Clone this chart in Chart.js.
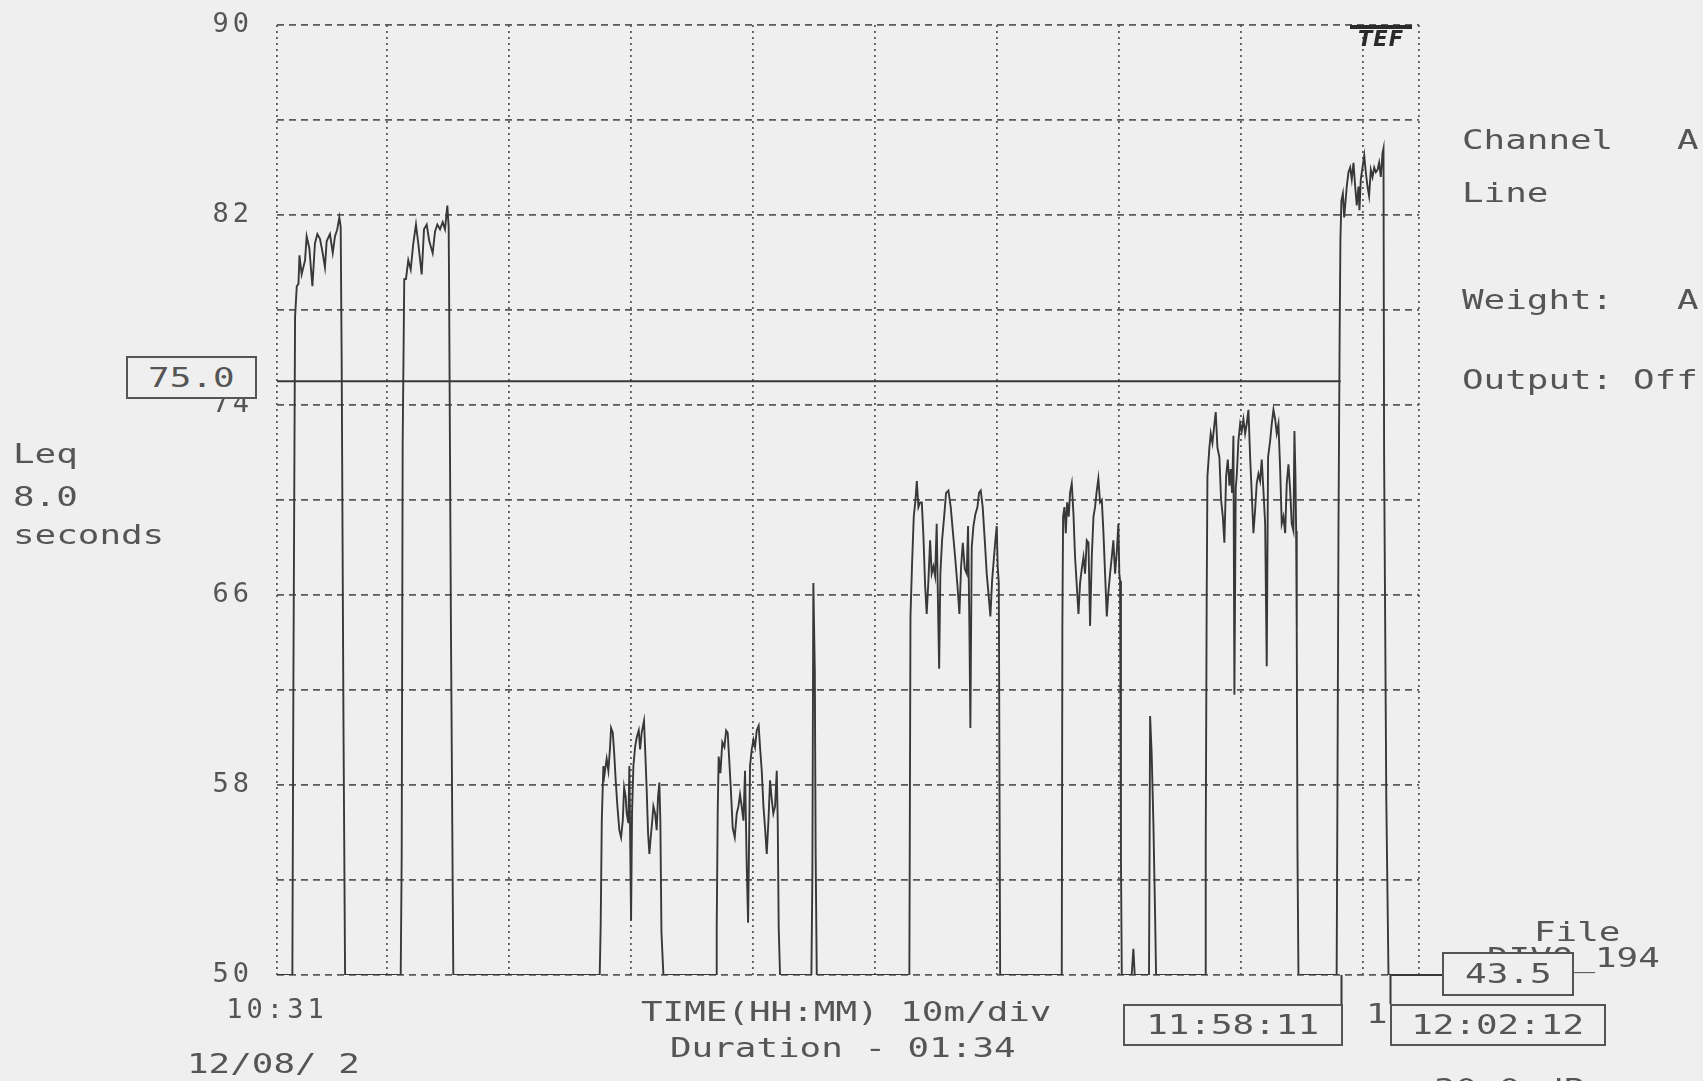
<!DOCTYPE html>
<html>
<head>
<meta charset="utf-8">
<title>Leq 8.0 seconds</title>
<script src="https://cdn.jsdelivr.net/npm/chart.js@4.4.1/dist/chart.umd.min.js"></script>
<style>
  html, body { margin: 0; padding: 0; background: #efefef; }
  body { width: 1703px; height: 1081px; position: relative; overflow: hidden; }
  #chart { position: absolute; left: 0; top: 0; z-index: 1; }
  .t {
    position: absolute; z-index: 2;
    font-family: 'DejaVu Sans Mono', monospace; font-size: 26px; line-height: 26px;
    color: #555; white-space: pre;
    transform: scaleX(1.38); transform-origin: 0 50%;
  }
  .box {
    position: absolute; z-index: 3; box-sizing: border-box;
    border: 2px solid #555; background: #efefef;
    display: flex; align-items: center; justify-content: center;
  }
  .box span {
    display: inline-block; white-space: pre;
    font-family: 'DejaVu Sans Mono', monospace; font-size: 26px; line-height: 26px;
    color: #555; transform: scaleX(1.38);
  }
  .logo {
    position: absolute; z-index: 2; left: 1350px; top: 25px; width: 62px;
    border-top: 4px solid #2a2a2a; padding-top: 1px;
    font-family: 'DejaVu Sans', sans-serif; font-weight: bold; font-style: italic;
    font-size: 21px; line-height: 19px; color: #2a2a2a; letter-spacing: 1px; text-align: center;
  }
</style>
</head>
<body>
<canvas id="chart" width="1703" height="1081"></canvas>

<div class="t" style="left:13px;top:441px">Leq</div>
<div class="t" style="left:13px;top:484px">8.0</div>
<div class="t" style="left:13px;top:522px">seconds</div>

<div class="t" style="left:187px;top:1051px">12/08/ 2</div>
<div class="t" style="left:641px;top:999px">TIME(HH:MM) 10m/div</div>
<div class="t" style="left:670px;top:1035px">Duration - 01:34</div>

<div class="t" style="left:1462px;top:127px">Channel</div>
<div class="t" style="left:1677px;top:127px">A</div>
<div class="t" style="left:1462px;top:180px">Line</div>
<div class="t" style="left:1462px;top:287px">Weight:</div>
<div class="t" style="left:1677px;top:287px">A</div>
<div class="t" style="left:1462px;top:367px">Output:</div>
<div class="t" style="left:1633px;top:367px">Off</div>

<div class="t" style="left:1534px;top:919px">File</div>
<div class="t" style="left:1487px;top:945px">DIVO_194</div>
<div class="t" style="left:1366px;top:1001px">1</div>
<div class="t" style="left:1434px;top:1076px">30.0 dB</div>

<div class="logo">TEF</div>

<div class="box" id="thresholdBox" style="left:126px;top:356px;width:131px;height:43px"><span></span></div>
<div class="box" id="cursorBox1" style="left:1123px;top:1004px;width:220px;height:42px"><span></span></div>
<div class="box" id="cursorBox2" style="left:1390px;top:1004px;width:216px;height:42px"><span></span></div>
<div class="box" id="levelBox" style="left:1442px;top:952px;width:132px;height:44px"><span></span></div>

<script>
// time axis is in minutes after 10:00, level in dB(A)
const startMinute = 31;          // 10:31
const endMinute = 124.6;         // duration 01:34
const gridMinutes = [31, 40, 50, 60, 70, 80, 90, 100, 110, 120, 124.6];
const levelTicks = [50, 58, 66, 74, 82, 90];

const thresholdLevel = 75.0;
const currentLevel = 43.5;
const cursorLabels = ['11:58:11', '12:02:12'];

const leqTime = [
    31,
    // burst 1
    32.26, 32.34, 32.48, 32.62, 32.76, 32.84, 33.02, 33.30, 33.43, 33.65, 33.90, 34.11, 34.31,
    34.52, 34.71, 34.93, 35.07, 35.34, 35.57, 35.75, 35.94, 36.11, 36.22, 36.30, 36.45, 36.58,
    // burst 2
    41.14, 41.22, 41.30, 41.43, 41.57, 41.76, 41.96, 42.17, 42.39, 42.58, 42.86, 43.05, 43.27,
    43.48, 43.76, 43.95, 44.14, 44.36, 44.58, 44.77, 44.96, 45.07, 45.10, 45.26, 45.45,
    // burst 3
    57.45, 57.53, 57.62, 57.75, 57.83, 58.02, 58.16, 58.30, 58.38, 58.52, 58.63, 58.76, 58.90,
    59.06, 59.20, 59.34, 59.45, 59.58, 59.66, 59.80, 59.88, 60.02, 60.10, 60.21, 60.35, 60.48,
    60.65, 60.76, 60.89, 61.08, 61.19, 61.30, 61.41, 61.52, 61.63, 61.74, 61.85, 61.99, 62.12,
    62.23, 62.34, 62.42, 62.51, 62.67,
    // burst 4
    66.99, 67.04, 67.12, 67.20, 67.34, 67.50, 67.67, 67.81, 67.94, 68.05, 68.19, 68.35, 68.52,
    68.68, 68.82, 68.95, 69.09, 69.23, 69.36, 69.50, 69.61, 69.77, 69.91, 70.05, 70.18, 70.32,
    70.48, 70.59, 70.73, 70.87, 71.00, 71.14, 71.28, 71.41, 71.55, 71.68, 71.82, 71.96, 72.04,
    72.12, 72.23,
    // spike
    74.80, 74.88, 74.96, 75.08, 75.15, 75.24,
    // burst 5
    82.83, 82.92, 83.05, 83.19, 83.33, 83.44, 83.57, 83.71, 83.85, 83.98, 84.12, 84.25, 84.39,
    84.53, 84.66, 84.80, 84.94, 85.07, 85.16, 85.27, 85.37, 85.51, 85.68, 85.84, 86.03, 86.22,
    86.39, 86.58, 86.77, 86.93, 87.07, 87.21, 87.37, 87.53, 87.64, 87.75, 87.83, 87.94, 88.08,
    88.24, 88.41, 88.54, 88.68, 88.84, 89.01, 89.17, 89.34, 89.47, 89.61, 89.75, 89.88, 89.99,
    90.07, 90.16, 90.27,
    // burst 6
    95.32, 95.37, 95.43, 95.54, 95.65, 95.76, 95.89, 96.00, 96.14, 96.28, 96.41, 96.55, 96.69,
    96.82, 96.96, 97.10, 97.23, 97.37, 97.51, 97.64, 97.78, 97.92, 98.05, 98.19, 98.32, 98.46,
    98.60, 98.73, 98.87, 99.01, 99.14, 99.28, 99.42, 99.55, 99.69, 99.83, 99.96, 100.04, 100.10,
    100.17, 100.24,
    // small bump and spike
    101.05, 101.19, 101.30,
    102.47, 102.52, 102.56, 102.69, 102.83, 102.97, 103.05,
    // burst 7
    107.07, 107.12, 107.20, 107.26, 107.42, 107.53, 107.67, 107.81, 107.94, 108.08, 108.24, 108.38,
    108.52, 108.65, 108.79, 108.93, 109.06, 109.17, 109.28, 109.39, 109.47, 109.58, 109.66, 109.80,
    109.94, 110.07, 110.21, 110.35, 110.48, 110.62, 110.76, 110.89, 111.03, 111.17, 111.30, 111.44,
    111.58, 111.71, 111.85, 111.99, 112.12, 112.23, 112.40, 112.53, 112.67, 112.81, 112.94, 113.08,
    113.22, 113.35, 113.49, 113.63, 113.76, 113.90, 114.04, 114.17, 114.31, 114.39, 114.47, 114.53,
    114.58, 114.64, 114.72,
    // burst 8
    117.85, 117.92, 118.00, 118.10, 118.16, 118.24, 118.36, 118.47, 118.55, 118.68, 118.82, 118.96,
    119.09, 119.23, 119.37, 119.50, 119.64, 119.72, 119.83, 119.97, 120.11, 120.24, 120.38, 120.51,
    120.65, 120.79, 120.93, 121.06, 121.20, 121.33, 121.47, 121.61, 121.69, 121.74, 121.92, 122.10,
    124.6
];

const leqLevel = [
    50,
    // burst 1
    50, 61.8, 77.7, 79.0, 79.1, 80.3, 79.5, 80.1, 81.1, 80.6, 79.0, 80.8, 81.2,
    81.0, 80.5, 79.8, 80.9, 81.2, 80.4, 81.1, 81.4, 81.9, 81.5, 75.9, 60.4, 50,
    // burst 2
    50, 55.0, 72.4, 79.3, 79.3, 80.1, 79.7, 80.8, 81.6, 80.8, 79.5, 81.4, 81.6,
    80.9, 80.4, 81.3, 81.6, 81.4, 81.7, 81.4, 82.4, 81.5, 79.4, 64.3, 50,
    // burst 3
    50, 52.1, 56.5, 58.8, 58.4, 59.1, 58.6, 59.6, 60.4, 60.2, 59.4, 58.2, 57.1,
    56.1, 55.8, 56.5, 57.9, 57.5, 56.8, 56.4, 58.8, 52.3, 56.8, 58.8, 59.6, 60.0,
    60.3, 59.5, 60.2, 60.7, 59.3, 57.8, 56.0, 55.1, 55.8, 56.4, 57.1, 56.8, 56.1,
    57.5, 58.1, 56.5, 51.8, 50,
    // burst 4
    50, 52.0, 56.8, 59.2, 58.5, 59.8, 59.6, 60.3, 60.2, 59.2, 57.9, 56.2, 55.8,
    56.8, 57.1, 57.6, 57.1, 56.5, 58.6, 54.6, 52.2, 58.8, 59.5, 59.9, 59.6, 60.3,
    60.5, 59.6, 58.6, 57.1, 56.2, 55.1, 56.5, 58.2, 57.4, 56.8, 57.1, 58.6, 56.5,
    52.0, 50,
    // spike
    50, 54.2, 66.5, 62.8, 55.0, 50,
    // burst 5
    50, 65.1, 67.3, 69.3, 70.0, 70.8, 69.7, 69.9, 69.9, 68.5, 66.4, 65.2, 66.6,
    68.3, 66.9, 67.2, 66.8, 69.0, 66.1, 62.9, 66.9, 68.3, 69.3, 70.3, 70.4, 69.7,
    68.7, 67.6, 66.4, 65.2, 67.2, 68.2, 67.1, 66.9, 68.9, 64.7, 60.4, 68.0, 68.9,
    69.4, 69.7, 70.3, 70.4, 69.7, 68.3, 66.9, 65.9, 65.1, 66.6, 67.5, 68.3, 68.9,
    67.2, 66.5, 50,
    // burst 6
    50, 64.7, 69.3, 69.7, 68.6, 69.9, 69.3, 70.3, 70.7, 69.4, 67.6, 66.4, 65.2,
    66.5, 67.1, 67.6, 66.9, 68.3, 68.2, 64.7, 67.6, 69.3, 69.7, 70.4, 70.9, 69.9,
    70.0, 68.7, 66.9, 65.1, 66.1, 66.9, 67.6, 68.3, 66.9, 67.8, 69.0, 66.9, 66.6,
    55.0, 50,
    // small bump and spike
    50, 51.1, 50,
    50, 55.5, 60.9, 59.3, 56.4, 52.5, 50,
    // burst 7
    50, 55.4, 66.0, 71.0, 72.2, 72.8, 72.4, 73.1, 73.7, 72.2, 71.8, 70.0,
    69.3, 68.2, 71.0, 71.7, 70.6, 71.3, 70.3, 72.7, 61.8, 70.5, 71.0, 72.5,
    73.2, 72.9, 73.4, 72.8, 73.2, 73.8, 71.8, 70.3, 68.6, 69.6, 70.7, 71.1,
    70.8, 71.7, 70.4, 69.0, 63.0, 71.8, 72.5, 73.2, 73.8, 73.4, 72.8, 73.2,
    71.3, 69.0, 69.3, 68.6, 70.7, 71.5, 70.4, 69.0, 68.7, 72.9, 71.1, 68.7,
    64.5, 55.2, 50,
    // burst 8
    50, 58.1, 68.8, 77.3, 81.0, 82.6, 82.9, 81.9, 82.4, 83.2, 83.8, 84.0,
    83.5, 84.2, 83.2, 82.4, 83.2, 82.2, 83.5, 84.0, 84.5, 83.8, 83.2, 82.8,
    83.9, 83.6, 84.0, 83.8, 83.9, 84.2, 83.6, 84.6, 84.8, 71.9, 57.4, 50,
    50
];

const INK = '#383838';
const GRID = '#5a5a5a';
const TEXT = '#555';
const FONT = { family: "'DejaVu Sans Mono', monospace", size: 27 };

function toMinutes(label) {
    const p = label.split(':').map(Number);
    return (p[0] - 10) * 60 + p[1] + p[2] / 60;
}
const cursorMinutes = cursorLabels.map(toMinutes);

// fill the value boxes
document.querySelector('#thresholdBox span').textContent = thresholdLevel.toFixed(1);
document.querySelector('#levelBox span').textContent = currentLevel.toFixed(1);
document.querySelector('#cursorBox1 span').textContent = cursorLabels[0];
document.querySelector('#cursorBox2 span').textContent = cursorLabels[1];

// wide plotter-like lettering for the axis numbers
const letterSpacing = {
    id: 'letterSpacing',
    beforeDraw(chart) { chart.ctx.letterSpacing = '4px'; }
};

// cursor legs below the plot and the link to the level box
const cursorLegs = {
    id: 'cursorLegs',
    afterDraw(chart) {
        const ctx = chart.ctx;
        const area = chart.chartArea;
        const xs = chart.scales.x;
        ctx.save();
        ctx.strokeStyle = INK;
        ctx.lineWidth = 2;
        ctx.beginPath();
        cursorMinutes.forEach(m => {
            const px = Math.round(xs.getPixelForValue(m)) + 0.5;
            ctx.moveTo(px, area.bottom);
            ctx.lineTo(px, area.bottom + 29);
        });
        const p2 = xs.getPixelForValue(cursorMinutes[1]);
        ctx.moveTo(p2, area.bottom);
        ctx.lineTo(p2 + 53, area.bottom);
        ctx.stroke();
        ctx.restore();
    }
};

const leqPoints = leqTime.map((t, i) => ({ x: t, y: leqLevel[i] }));
const thresholdPoints = [
    { x: startMinute, y: thresholdLevel },
    { x: cursorMinutes[0], y: thresholdLevel }
];

const config = {
    type: 'line',
    data: {
        datasets: [
            {
                label: 'Leq',
                data: leqPoints,
                borderColor: INK,
                borderWidth: 1.9,
                pointRadius: 0,
                tension: 0
            },
            {
                label: 'Line',
                data: thresholdPoints,
                borderColor: INK,
                borderWidth: 2,
                pointRadius: 0
            }
        ]
    },
    options: {
        responsive: false,
        animation: false,
        events: [],
        layout: { padding: { top: 25, right: 284, left: 0, bottom: 0 } },
        plugins: {
            legend: { display: false },
            tooltip: { enabled: false }
        },
        scales: {
            x: {
                type: 'linear',
                min: startMinute,
                max: endMinute,
                afterFit(scale) { scale.height = 106; },
                afterBuildTicks(scale) { scale.ticks = gridMinutes.map(v => ({ value: v })); },
                ticks: {
                    autoSkip: false,
                    maxRotation: 0,
                    padding: 20,
                    color: TEXT,
                    font: FONT,
                    callback: v => v === startMinute ? '10:31' : ''
                },
                grid: { color: GRID, lineWidth: 1.8, drawTicks: false },
                border: { display: false, dash: [2, 4] }
            },
            y: {
                min: 50,
                max: 90,
                afterFit(scale) {
                    scale.width = 277;
                    scale.paddingTop = 0;     // the tick padding otherwise pushes the plot down
                    scale.paddingBottom = 0;
                },
                ticks: {
                    stepSize: 4,
                    padding: 24,
                    color: TEXT,
                    font: FONT,
                    callback: v => levelTicks.includes(v) ? String(v) : ''
                },
                grid: { color: GRID, lineWidth: 1.8, drawTicks: false },
                border: { display: false, dash: [7, 5] }
            }
        }
    },
    plugins: [letterSpacing, cursorLegs]
};

const chart = new Chart(document.getElementById('chart'), config);
</script>
</body>
</html>
